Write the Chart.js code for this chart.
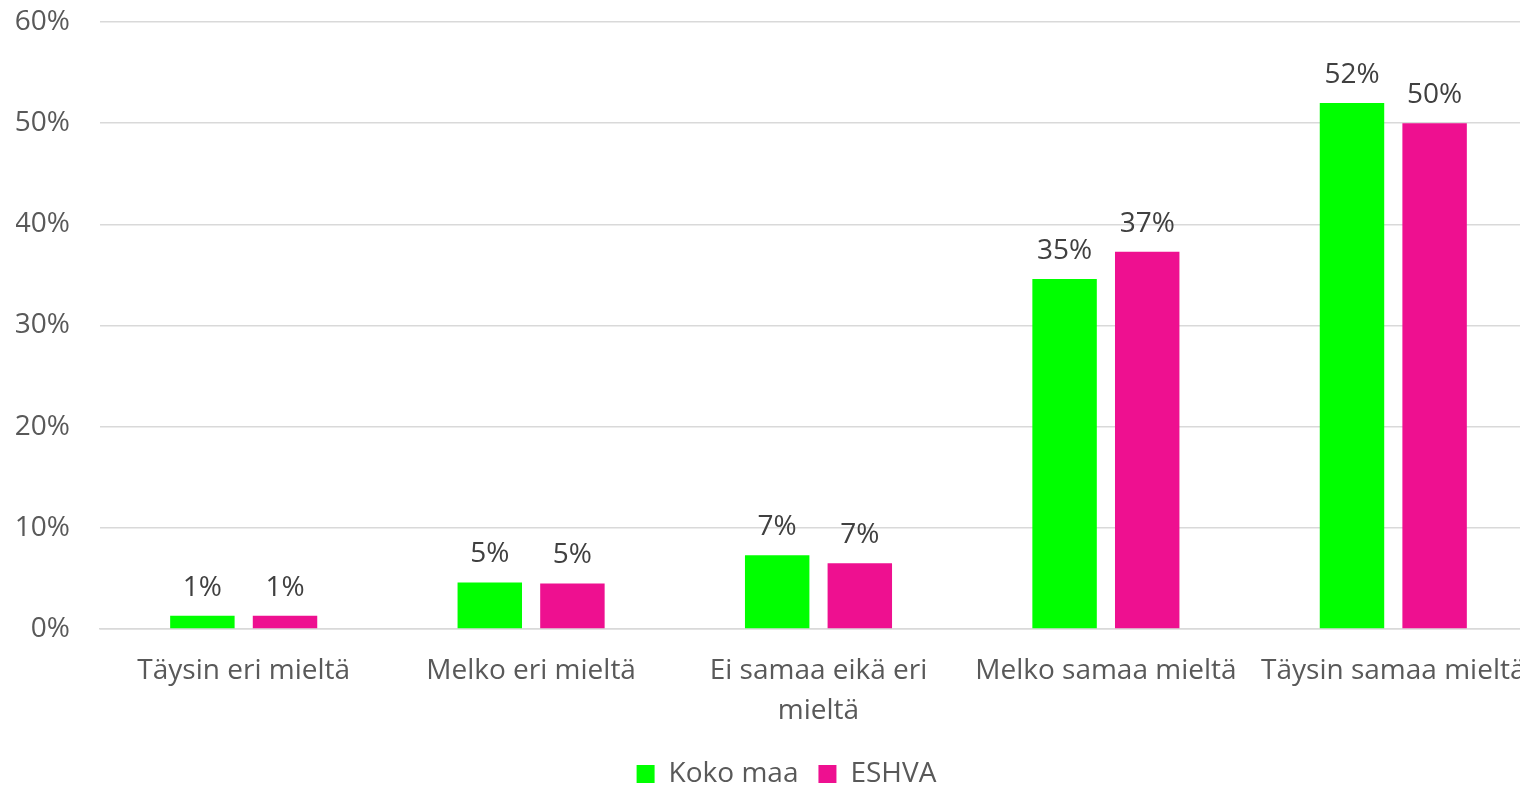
<!DOCTYPE html>
<html lang="fi">
<head>
<meta charset="utf-8">
<title>Vastausjakauma</title>
<script src="https://cdn.jsdelivr.net/npm/chart.js@4"></script>
<style>
  html, body { margin: 0; padding: 0; background: #fff; overflow: hidden; }
  .chart-box { position: relative; width: 1537px; height: 785px; }
</style>
</head>
<body>
<div class="chart-box">
  <canvas id="answerChart"></canvas>
</div>
<script>
/* answer distribution, whole country vs ESHVA */

const categories = [
  "Täysin eri mieltä",
  "Melko eri mieltä",
  ["Ei samaa eikä eri", "mieltä"],
  "Melko samaa mieltä",
  "Täysin samaa mieltä"
];
const kokoMaa = [1.3, 4.6, 7.3, 34.6, 52.0];
const eshva = [1.3, 4.5, 6.5, 37.3, 50.0];
const yTicks = [0, 10, 20, 30, 40, 50, 60];

const textColor = "#595959";
const fontFamily = "'Open Sans', 'Noto Sans', sans-serif";

// value labels above each bar
const barValueLabels = {
  id: "barValueLabels",
  afterDatasetsDraw(chart) {
    const ctx = chart.ctx;
    ctx.save();
    ctx.font = "28px " + fontFamily;
    ctx.fillStyle = "#404040";
    ctx.textAlign = "center";
    ctx.textBaseline = "bottom";
    chart.data.datasets.forEach((ds, i) => {
      chart.getDatasetMeta(i).data.forEach((bar, j) => {
        ctx.fillText(Math.round(ds.data[j]) + "%", bar.x, bar.y - 14);
      });
    });
    ctx.restore();
  }
};

// nudge the legend a bit right of the canvas centre
const legendShift = {
  id: "legendShift",
  afterLayout(chart) {
    chart.legend.left += 10;
    chart.legend.right += 10;
  }
};

new Chart(document.getElementById("answerChart"), {
  type: "bar",
  data: {
    labels: categories,
    datasets: [
      {
        label: "Koko maa",
        data: kokoMaa,
        backgroundColor: "#00ff00",
        categoryPercentage: 0.575,
        barPercentage: 0.78
      },
      {
        label: "ESHVA",
        data: eshva,
        backgroundColor: "#ee1090",
        categoryPercentage: 0.575,
        barPercentage: 0.78
      }
    ]
  },
  options: {
    responsive: true,
    maintainAspectRatio: false,
    animation: false,
    layout: {
      padding: { top: 22, left: 16, right: 0, bottom: -13 }
    },
    plugins: {
      legend: {
        position: "bottom",
        labels: {
          color: textColor,
          font: { size: 28, family: fontFamily },
          boxWidth: 18,
          boxHeight: 18,
          padding: 20
        }
      },
      tooltip: { enabled: false }
    },
    scales: {
      x: {
        grid: { display: false },
        border: { color: "#d9d9d9", width: 1.5 },
        ticks: {
          color: textColor,
          font: { size: 28, family: fontFamily, lineHeight: 1.43 },
          maxRotation: 0,
          autoSkip: false,
          padding: 14
        },
        afterFit(scale) {
          scale.height = 111;
          scale.paddingLeft = 0;
          scale.paddingRight = 0;
        }
      },
      y: {
        min: 0,
        max: 60,
        afterBuildTicks(axis) {
          axis.ticks = yTicks.map(v => ({ value: v }));
        },
        grid: { color: "#d9d9d9", lineWidth: 1.5, drawTicks: false },
        border: { display: false },
        ticks: {
          color: textColor,
          font: { size: 28, family: fontFamily },
          padding: 30,
          callback: v => v + "%"
        },
        afterFit(scale) {
          scale.width = 84;
          scale.paddingTop = 0;
          scale.paddingBottom = 0;
        }
      }
    }
  },
  plugins: [barValueLabels, legendShift]
});
</script>
</body>
</html>
